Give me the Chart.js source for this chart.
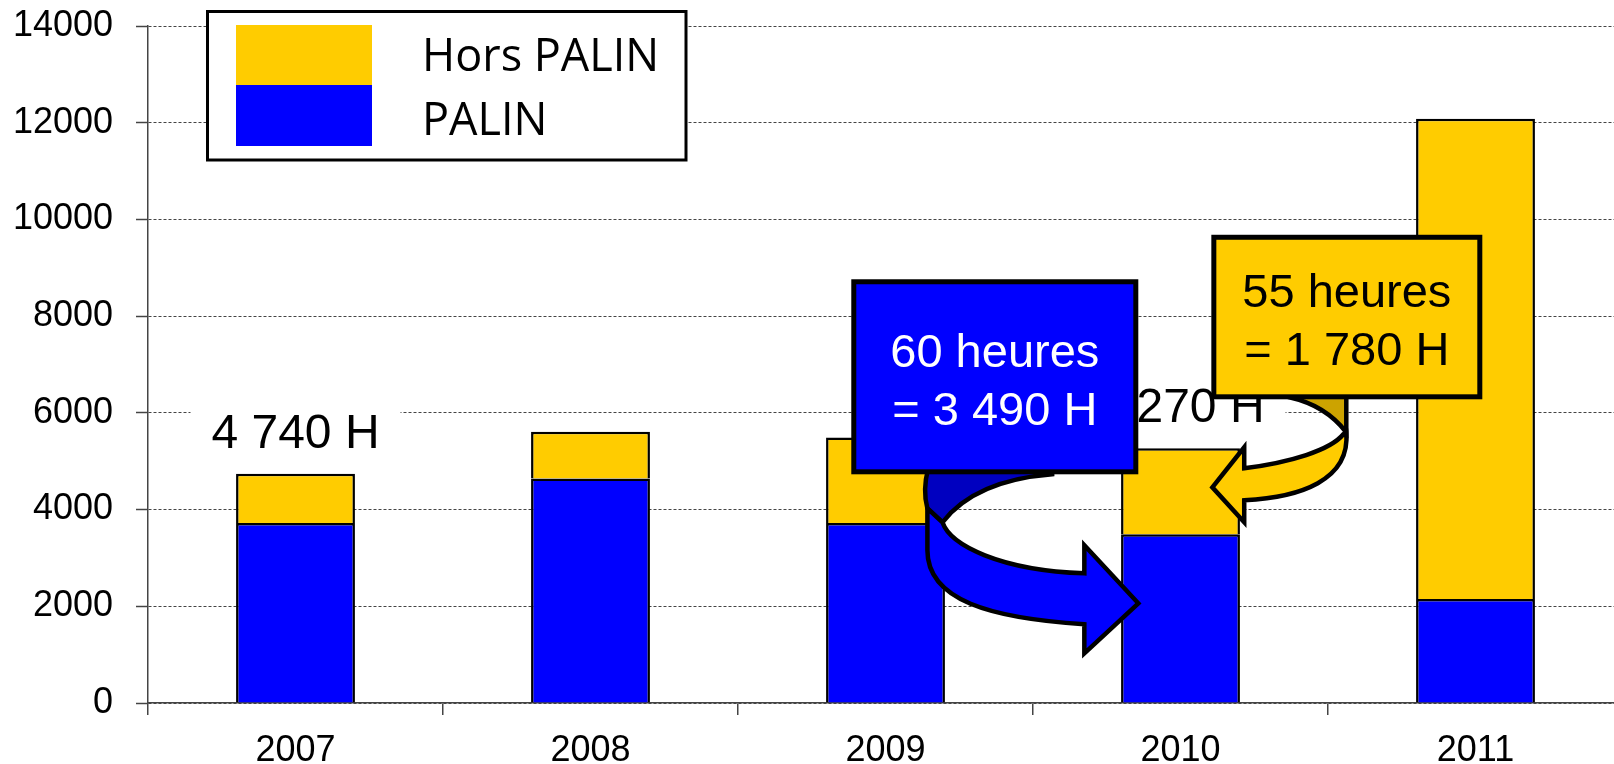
<!DOCTYPE html>
<html>
<head>
<meta charset="utf-8">
<script src="https://cdn.jsdelivr.net/npm/chart.js@4.4.1/dist/chart.umd.min.js"></script>
<style>
  html, body { margin: 0; padding: 0; background: #fff; overflow: hidden; }
  #wrap { width: 1640px; height: 764px; }
</style>
</head>
<body>
<div id="wrap"><canvas id="myChart" width="1640" height="764"></canvas></div>
<script>
const years = ["2007", "2008", "2009", "2010", "2011"];
const palin = [3720, 4640, 3720, 3490, 2150];
const horsPalin = [1020, 970, 1770, 1780, 9930];
const totalLabels = ["4 740 H", "", "", "5 270 H", ""];
const blueCallout = ["60 heures", "= 3 490 H"];
const yellowCallout = ["55 heures", "= 1 780 H"];
const yMax = 14000;
const yStep = 2000;

const BLUE = "#0000FF";
const YELLOW = "#FFCC00";
const AXIS = "#444";
const FONT = "'Liberation Sans', Arial, sans-serif";

// callout shapes, in (category index, value) units
const blueBox = { i1: 1.8925, v1: 8711, i2: 2.8485, v2: 4781 };
const yellowBox = { i1: 3.113, v1: 9631, i2: 4.0146, v2: 6332 };

const blueArrowBack = [
  ["M", 2.145, 4860], ["L", 2.565, 4860], ["L", 2.565, 4730],
  ["Q", 2.304, 4605, 2.193, 3737], ["L", 2.142, 4026],
  ["Q", 2.125, 4399, 2.145, 4860], ["Z"]
];
const blueArrowFront = [
  ["M", 2.142, 4026], ["L", 2.142, 3158],
  ["C", 2.142, 2124, 2.355, 1752, 2.674, 1628],
  ["L", 2.674, 1028], ["L", 2.857, 2062], ["L", 2.674, 3261], ["L", 2.674, 2682],
  ["C", 2.389, 2744, 2.220, 3261, 2.193, 3737], ["Z"]
];
const yellowArrowBack = [
  ["M", 3.369, 6450], ["L", 3.562, 6450], ["L", 3.562, 5598],
  ["Q", 3.491, 6157, 3.369, 6322], ["Z"]
];
const yellowArrowFront = [
  ["M", 3.562, 5598],
  ["C", 3.576, 4605, 3.406, 4254, 3.216, 4192],
  ["L", 3.216, 3737], ["L", 3.108, 4461], ["L", 3.216, 5288], ["L", 3.216, 4854],
  ["C", 3.372, 4978, 3.508, 5226, 3.552, 5557], ["Z"]
];

const annotations = {
  id: "annotations",
  afterDraw(chart) {
    const { ctx, scales: { x, y } } = chart;
    const P = (i, v) => [x.getPixelForValue(i), y.getPixelForValue(v)];

    const shape = (cmds, fill) => {
      ctx.beginPath();
      cmds.forEach((c) => {
        const pts = [];
        for (let k = 1; k < c.length; k += 2) pts.push(...P(c[k], c[k + 1]));
        if (c[0] === "M") ctx.moveTo(...pts);
        else if (c[0] === "L") ctx.lineTo(...pts);
        else if (c[0] === "Q") ctx.quadraticCurveTo(...pts);
        else if (c[0] === "C") ctx.bezierCurveTo(...pts);
        else ctx.closePath();
      });
      ctx.fillStyle = fill;
      ctx.fill();
      ctx.lineWidth = 4.5;
      ctx.lineJoin = "miter";
      ctx.strokeStyle = "#000";
      ctx.stroke();
    };

    const box = (b, fill, color, lines, fr) => {
      const [xa, ya] = P(b.i1, b.v1);
      const [xb, yb] = P(b.i2, b.v2);
      ctx.fillStyle = fill;
      ctx.fillRect(xa, ya, xb - xa, yb - ya);
      ctx.lineWidth = 5;
      ctx.strokeStyle = "#000";
      ctx.strokeRect(xa, ya, xb - xa, yb - ya);
      ctx.fillStyle = color;
      ctx.font = "47px " + FONT;
      ctx.textAlign = "center";
      ctx.textBaseline = "alphabetic";
      lines.forEach((t, k) => ctx.fillText(t, (xa + xb) / 2, ya + fr[k] * (yb - ya)));
    };

    ctx.save();

    // total labels above bars
    const top = chart.getDatasetMeta(1).data;
    ctx.font = "48px " + FONT;
    ctx.textAlign = "center";
    ctx.textBaseline = "alphabetic";
    totalLabels.forEach((t, i) => {
      if (!t) return;
      const bx = top[i].x, base = top[i].y - 26;
      ctx.fillStyle = "#fff";
      ctx.fillRect(bx - 105, base - 52, 210, 64);
      ctx.fillStyle = "#000";
      ctx.fillText(t, bx, base);
    });

    shape(blueArrowBack, "#0000C0");
    shape(blueArrowFront, BLUE);
    shape(yellowArrowBack, "#CCA300");
    shape(yellowArrowFront, YELLOW);

    box(blueBox, BLUE, "#fff", blueCallout, [0.45, 0.755]);
    box(yellowBox, YELLOW, "#000", yellowCallout, [0.44, 0.80]);

    // legend
    const ds = chart.data.datasets;
    const items = [ds[1], ds[0]];
    ctx.fillStyle = "#fff";
    ctx.fillRect(207.5, 11.5, 478.5, 148.5);
    ctx.lineWidth = 3;
    ctx.strokeStyle = "#000";
    ctx.strokeRect(207.5, 11.5, 478.5, 148.5);
    ctx.font = "45px 'Open Sans', sans-serif";
    ctx.textAlign = "left";
    items.forEach((d, k) => {
      ctx.fillStyle = d.backgroundColor;
      ctx.fillRect(236, 25 + k * 60, 136, 61);
      ctx.fillStyle = "#000";
      ctx.fillText(d.label, 422, 71 + k * 64);
    });

    ctx.restore();
  },
};

new Chart(document.getElementById("myChart").getContext("2d"), {
  type: "bar",
  data: {
    labels: years,
    datasets: [
      { label: "PALIN", data: palin, backgroundColor: BLUE, borderColor: "#000", borderWidth: 2.5 },
      { label: "Hors PALIN", data: horsPalin, backgroundColor: YELLOW, borderColor: "#000", borderWidth: 2.5 },
    ],
  },
  options: {
    responsive: false,
    devicePixelRatio: 1,
    animation: false,
    layout: { padding: { top: 26, right: 17, left: 0, bottom: 0 } },
    datasets: { bar: { categoryPercentage: 1, barPercentage: 0.403 } },
    plugins: { legend: { display: false }, tooltip: { enabled: false } },
    scales: {
      x: {
        stacked: true,
        afterFit: (s) => { s.height = 61; s.paddingLeft = 0; s.paddingRight = 0; },
        grid: { offset: true, drawOnChartArea: false, drawTicks: true, tickLength: 12, color: AXIS, lineWidth: 1.5 },
        border: { display: true, color: AXIS, width: 1.5 },
        ticks: { color: "#000", font: { family: FONT, size: 36 }, padding: 14, maxRotation: 0 },
      },
      y: {
        stacked: true,
        min: 0,
        max: yMax,
        afterFit: (s) => { s.width = 148; s.paddingTop = 0; s.paddingBottom = 0; },
        grid: { color: AXIS, lineWidth: 1, tickLength: 12, tickColor: AXIS, tickWidth: 1.5 },
        border: { display: true, color: AXIS, width: 1.5, dash: [3, 2] },
        ticks: { stepSize: yStep, color: "#000", font: { family: FONT, size: 36 }, padding: 23, callback: (v) => String(v) },
      },
    },
  },
  plugins: [annotations],
});
</script>
</body>
</html>
